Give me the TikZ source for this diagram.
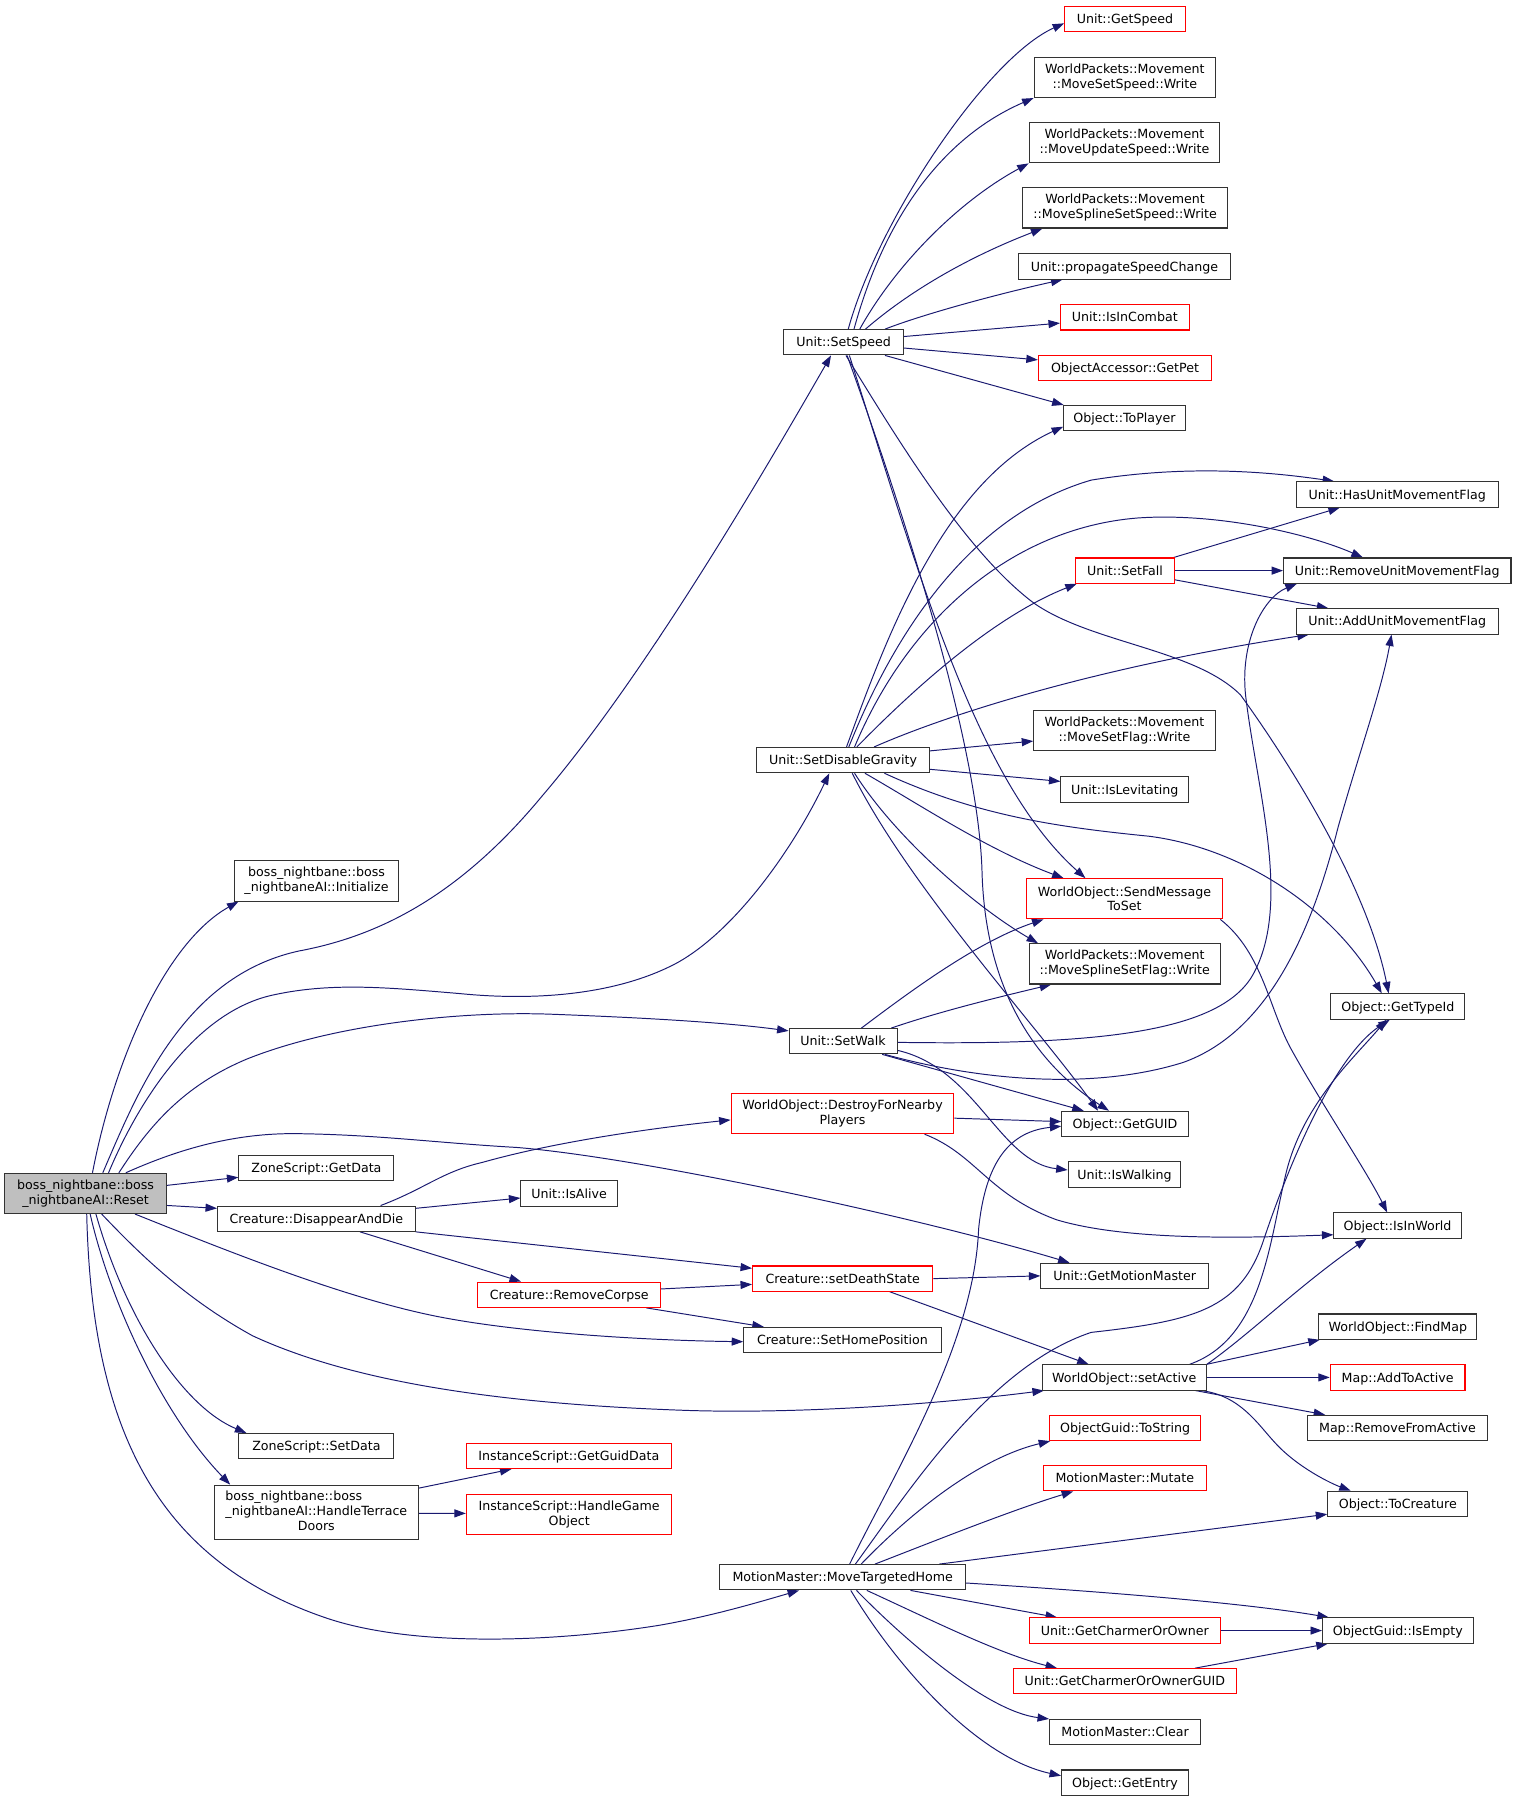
\documentclass[tikz,border=0pt]{standalone}
\usepackage{fontspec}
\setmainfont{DejaVu Sans}
\usetikzlibrary{arrows.meta}
\definecolor{edgeblue}{HTML}{191970}
\definecolor{boxline}{HTML}{333333}
\definecolor{boxred}{HTML}{FF0000}
\definecolor{resetgray}{HTML}{BFBFBF}
\pgfdeclarelayer{bg}
\pgfdeclarelayer{paper}
\pgfsetlayers{paper,bg,main}
\begin{document}
\begin{tikzpicture}[x=1pt,y=-1pt,
  nodebase/.style={draw=boxline, line width=0.9pt, fill=white, inner sep=0pt, font=\fontsize{11}{13}\selectfont},
  box/.style={nodebase, minimum height=22pt, text height=8pt, text depth=0pt},
  box2/.style={nodebase, minimum height=35pt, align=center},
  redbox/.style={box, draw=boxred},
  redbox2/.style={box2, draw=boxred},
  callarrow/.style={draw=edgeblue, line width=0.85pt, -{Triangle[length=10pt,width=7pt]}}]
\begin{pgfonlayer}{paper}
\path[use as bounding box, fill=white] (0,0) rectangle (1320,1568);
\end{pgfonlayer}

% column 1
\node[box2, fill=resetgray, minimum width=141pt] (reset) at (74.5,1039) {boss\_nightbane::boss\\\_nightbaneAI::Reset};
\node[box2, minimum width=143pt] (init) at (275.6,767) {boss\_nightbane::boss\\\_nightbaneAI::Initialize};
\node[box, minimum width=135pt] (gd) at (275.5,1017) {ZoneScript::GetData};
\node[box, minimum width=172pt] (dd) at (275.4,1061) {Creature::DisappearAndDie};
\node[box, minimum width=135pt] (sd) at (275.5,1259) {ZoneScript::SetData};
\node[nodebase, minimum width=178pt, minimum height=47pt] (hand) at (275.4,1316.5) {\begin{tabular}{@{}l@{}}boss\_nightbane::boss\\\_nightbaneAI::HandleTerrace\\\multicolumn{1}{@{}c@{}}{Doors}\end{tabular}};

% column 2
\node[box, minimum width=104pt] (ss) at (734.5,298) {Unit::SetSpeed};
\node[box, minimum width=150pt] (sdg) at (734,661.75) {Unit::SetDisableGravity};
\node[box, minimum width=94pt] (sw) at (734,906.5) {Unit::SetWalk};
\node[redbox2, minimum width=194pt] (dfn) at (733.5,969.5) {WorldObject::DestroyForNearby\\Players};
\node[box, minimum width=84pt] (ia) at (495.5,1039) {Unit::IsAlive};
\node[redbox, minimum width=159pt] (rc) at (495.6,1127.2) {Creature::RemoveCorpse};
\node[redbox, minimum width=157pt] (sds) at (733.7,1113.2) {Creature::setDeathState};
\node[box, minimum width=172pt] (shp) at (733.5,1166.6) {Creature::SetHomePosition};
\node[redbox, minimum width=178pt] (ggd) at (495.3,1267.6) {InstanceScript::GetGuidData};
\node[redbox2, minimum width=179pt] (hgo) at (495.5,1318.6) {InstanceScript::HandleGame\\Object};
\node[box, minimum width=214pt] (mth) at (733.7,1373.2) {MotionMaster::MoveTargetedHome};

% column 3
\node[redbox, minimum width=105pt] (gs) at (979.4,16.3) {Unit::GetSpeed};
\node[box2, minimum width=158pt] (mss) at (979.3,67.4) {WorldPackets::Movement\\::MoveSetSpeed::Write};
\node[box2, minimum width=166pt] (mus) at (979,124.3) {WorldPackets::Movement\\::MoveUpdateSpeed::Write};
\node[box2, minimum width=179pt] (msss) at (979.5,181) {WorldPackets::Movement\\::MoveSplineSetSpeed::Write};
\node[box, minimum width=184pt] (psc) at (979,232) {Unit::propagateSpeedChange};
\node[redbox, minimum width=112pt] (iic) at (979.3,276.3) {Unit::IsInCombat};
\node[redbox, minimum width=151pt] (gp) at (979.5,320.3) {ObjectAccessor::GetPet};
\node[box, minimum width=106pt] (tp) at (979,364) {Object::ToPlayer};
\node[redbox, minimum width=86pt] (sf) at (979.4,496.8) {Unit::SetFall};
\node[box2, minimum width=158pt] (msf) at (979,636.2) {WorldPackets::Movement\\::MoveSetFlag::Write};
\node[box, minimum width=111pt] (il) at (979.2,687.3) {Unit::IsLevitating};
\node[redbox2, minimum width=170pt] (smts) at (979,782.5) {WorldObject::SendMessage\\ToSet};
\node[box2, minimum width=166pt] (mssf) at (979.2,839.2) {WorldPackets::Movement\\::MoveSplineSetFlag::Write};
\node[box, minimum width=110pt] (guid) at (979.5,978.5) {Object::GetGUID};
\node[box, minimum width=98pt] (iw) at (979,1022.6) {Unit::IsWalking};
\node[box, minimum width=146pt] (gmm) at (979.2,1110.8) {Unit::GetMotionMaster};
\node[box, minimum width=143pt] (sa) at (978.8,1199.2) {WorldObject::setActive};
\node[redbox, minimum width=131.5pt] (ts) at (979.5,1243.2) {ObjectGuid::ToString};
\node[redbox, minimum width=142pt] (mut) at (979.3,1287) {MotionMaster::Mutate};
\node[redbox, minimum width=166.5pt] (gco) at (979.3,1419.6) {Unit::GetCharmerOrOwner};
\node[redbox, minimum width=194.6pt] (gcog) at (979.3,1463.8) {Unit::GetCharmerOrOwnerGUID};
\node[box, minimum width=131.5pt] (clr) at (979.5,1508) {MotionMaster::Clear};
\node[box, minimum width=110.6pt] (ge) at (979.5,1552) {Object::GetEntry};

% column 4
\node[box, minimum width=175.4pt] (hum) at (1216.5,430.5) {Unit::HasUnitMovementFlag};
\node[box, minimum width=198pt] (rum) at (1216.5,496.8) {Unit::RemoveUnitMovementFlag};
\node[box, minimum width=175.4pt] (aum) at (1216.5,541) {Unit::AddUnitMovementFlag};
\node[box, minimum width=116.5pt] (gti) at (1217,876.3) {Object::GetTypeId};
\node[box, minimum width=110.7pt] (iiw) at (1216.7,1067) {Object::IsInWorld};
\node[box, minimum width=137.4pt] (fm) at (1217,1155) {WorldObject::FindMap};
\node[redbox, minimum width=117.3pt] (ata) at (1216.8,1199.2) {Map::AddToActive};
\node[box, minimum width=156pt] (rfa) at (1216.7,1243.2) {Map::RemoveFromActive};
\node[box, minimum width=122pt] (tc) at (1217,1309.3) {Object::ToCreature};
\node[box, minimum width=131.2pt] (ie) at (1217,1419.6) {ObjectGuid::IsEmpty};

\begin{pgfonlayer}{bg}
% Reset
\draw[callarrow] ([xshift=6]reset.north) .. controls (100,920) and (145,820) .. ([xshift=-68]init.south);
\draw[callarrow] ([xshift=15]reset.north) .. controls (120,950) and (160,850) .. (260,828) .. controls (330,815) and (400,780) .. (472,693) .. controls (560,590) and (660,420) .. ([xshift=-11]ss.south);
\draw[callarrow] ([xshift=20]reset.north) .. controls (120,960) and (170,880) .. (239,866) .. controls (290,855) and (340,860) .. (400,865) .. controls (470,872) and (540,865) .. (590,838) .. controls (640,810) and (690,740) .. ([xshift=-12]sdg.south);
\draw[callarrow] ([xshift=29]reset.north) .. controls (130,980) and (160,945) .. (215,922) .. controls (290,892) and (400,880) .. (480,883) .. controls (560,886) and (630,890) .. ([yshift=9]sw.west);
\draw[callarrow] ([yshift=7]reset.east) -- ([yshift=-8]gd.west);
\draw[callarrow] ([yshift=-10.5]reset.east) -- ([yshift=9]dd.west);
\draw[callarrow] ([xshift=35]reset.north) .. controls (150,1003) and (200,986) .. (260,987) .. controls (330,988) and (380,995) .. (450,999) .. controls (560,1008) and (800,1060) .. ([xshift=-48]gmm.north);
\draw[callarrow] ([xshift=43]reset.south) .. controls (200,1090) and (300,1130) .. (380,1146) .. controls (450,1160) and (560,1167) .. ([yshift=-1.5]shp.west);
\draw[callarrow] ([xshift=14]reset.south) .. controls (120,1090) and (160,1130) .. (220,1163) .. controls (300,1200) and (420,1222) .. (600,1228) .. controls (700,1231) and (820,1222) .. ([xshift=2]sa.south west);
\draw[callarrow] ([xshift=9]reset.south) .. controls (110,1150) and (160,1225) .. ([xshift=-61]sd.north);
\draw[callarrow] ([xshift=4]reset.south) .. controls (95,1130) and (140,1230) .. ([xshift=-75]hand.north);
\draw[callarrow] ([xshift=1]reset.south) .. controls (80,1250) and (140,1360) .. (285,1409) .. controls (360,1434) and (480,1430) .. (574,1415) .. controls (620,1407) and (660,1395) .. ([xshift=-38]mth.south);
% DisappearAndDie, RemoveCorpse, setDeathState, HandleTerraceDoors
\draw[callarrow] ([xshift=56]dd.north) .. controls (370,1035) and (385,1020) .. (420,1012) .. controls (480,995) and (560,983) .. ([yshift=-5.5]dfn.west);
\draw[callarrow] ([yshift=9]dd.east) -- ([yshift=-4]ia.west);
\draw[callarrow] (dd.south east) -- ([yshift=9]sds.west);
\draw[callarrow] ([xshift=38]dd.south) -- ([xshift=-42]rc.north);
\draw[callarrow] ([yshift=5]rc.east) -- ([yshift=-5]sds.west);
\draw[callarrow] ([xshift=-13]rc.south east) -- ([xshift=-68.5]shp.north);
\draw[callarrow] (sds.east) -- (gmm.west);
\draw[callarrow] ([xshift=41]sds.south) -- ([xshift=-31]sa.north);
\draw[callarrow] ([yshift=-3]hand.north east) -- ([xshift=-50]ggd.south);
\draw[callarrow] ([yshift=-1]hand.east) -- ([yshift=1]hgo.west);
% SetSpeed
\draw[callarrow] ([xshift=4]ss.north) .. controls (765,190) and (860,50) .. ([yshift=-4]gs.west);
\draw[callarrow] ([xshift=9]ss.north) .. controls (770,190) and (820,120) .. (mss.south west);
\draw[callarrow] ([xshift=14]ss.north) .. controls (780,230) and (835,175) .. (mus.south west);
\draw[callarrow] ([xshift=19]ss.north) .. controls (790,255) and (840,225) .. ([xshift=18]msss.south west);
\draw[callarrow] ([xshift=36]ss.north) .. controls (800,275) and (860,258) .. ([xshift=-54]psc.south);
\draw[callarrow] ([yshift=5]ss.east) -- ([yshift=-5]iic.west);
\draw[callarrow] ([yshift=-5]ss.east) -- ([yshift=7]gp.west);
\draw[callarrow] ([xshift=36]ss.south) -- ([xshift=-53]tp.north);
\draw[callarrow] ([xshift=2]ss.south) .. controls (780,380) and (840,480) .. (900,525) .. controls (950,560) and (1040,565) .. (1080,605) .. controls (1120,660) and (1190,770) .. ([xshift=-8]gti.north);
\draw[callarrow] ([xshift=5]ss.south) .. controls (800,500) and (850,680) .. ([xshift=-34]smts.north);
\draw[callarrow] ([xshift=3]ss.south) .. controls (777,419) and (852,640) .. (855,760) .. controls (858,860) and (900,925) .. ([xshift=-14]guid.north);
% SetDisableGravity
\draw[callarrow] ([xshift=3]sdg.north) .. controls (770,560) and (820,420) .. ([yshift=-7.5]tp.west);
\draw[callarrow] ([xshift=5]sdg.north) .. controls (775,560) and (840,450) .. (950,418) .. controls (1030,405) and (1100,410) .. ([xshift=-55]hum.north);
\draw[callarrow] ([xshift=10]sdg.north) .. controls (790,540) and (880,460) .. (990,451) .. controls (1060,446) and (1140,465) .. ([xshift=-30]rum.north);
\draw[callarrow] ([xshift=12]sdg.north) .. controls (805,590) and (870,535) .. ([xshift=1.5]sf.south west);
\draw[callarrow] ([xshift=27]sdg.north) .. controls (830,620) and (960,580) .. ([xshift=-77]aum.south);
\draw[callarrow] ([yshift=8]sdg.east) -- ([yshift=-9]msf.west);
\draw[callarrow] ([yshift=-8]sdg.east) -- ([yshift=7]il.west);
\draw[callarrow] ([xshift=36]sdg.south) .. controls (850,710) and (920,720) .. (1000,728) .. controls (1080,738) and (1160,790) .. ([xshift=-14]gti.north);
\draw[callarrow] ([xshift=19]sdg.south) .. controls (800,700) and (860,740) .. ([xshift=-53]smts.north);
\draw[callarrow] ([xshift=10]sdg.south) .. controls (780,730) and (850,790) .. ([xshift=8]mssf.north west);
\draw[callarrow] ([xshift=8]sdg.south) .. controls (790,770) and (900,890) .. ([xshift=-23.5]guid.north);
% SetFall
\draw[callarrow] ([xshift=-1]sf.north east) -- ([xshift=-50]hum.south);
\draw[callarrow] (sf.east) -- (rum.west);
\draw[callarrow] ([yshift=-8]sf.east) -- ([xshift=-60]aum.north);
% SetWalk
\draw[callarrow] ([xshift=16]sw.north) .. controls (790,865) and (850,820) .. ([xshift=-70.5]smts.south);
\draw[callarrow] ([xshift=42]sw.north) .. controls (820,880) and (870,868) .. ([xshift=-64]mssf.south);
\draw[callarrow] ([yshift=-1]sw.east) .. controls (950,910) and (1060,900) .. (1090,850) .. controls (1125,790) and (1095,690) .. (1085,610) .. controls (1078,560) and (1100,520) .. ([xshift=12]rum.south west);
\draw[callarrow] ([xshift=-11]sw.south east) .. controls (850,940) and (950,950) .. (1030,925) .. controls (1100,900) and (1140,820) .. (1165,720) .. controls (1185,650) and (1203,600) .. ([xshift=-5]aum.south);
\draw[callarrow] ([xshift=34]sw.south) -- ([xshift=-36]guid.north);
\draw[callarrow] ([yshift=-8]sw.east) .. controls (850,930) and (870,1012) .. ([yshift=4]iw.west);
% DestroyForNearbyPlayers, SendMessageToSet
\draw[callarrow] ([yshift=-4]dfn.east) -- ([yshift=2]guid.west);
\draw[callarrow] ([xshift=-26]dfn.south east) .. controls (850,1005) and (860,1040) .. (920,1062) .. controls (980,1080) and (1080,1078) .. ([yshift=-8]iiw.west);
\draw[callarrow] ([xshift=-2]smts.south east) .. controls (1100,830) and (1105,880) .. (1125,915) .. controls (1150,960) and (1190,1020) .. ([xshift=-9]iiw.north);
% setActive
\draw[callarrow] ([xshift=57]sa.north) .. controls (1100,1165) and (1105,1080) .. (1120,1020) .. controls (1135,960) and (1180,920) .. ([xshift=-10]gti.south);
\draw[callarrow] ([xshift=72]sa.north) .. controls (1090,1160) and (1130,1120) .. ([xshift=-27]iiw.south);
\draw[callarrow] (sa.north east) -- ([xshift=-68]fm.south);
\draw[callarrow] (sa) -- (ata);
\draw[callarrow] ([xshift=-10]sa.south east) -- ([xshift=-63]rfa.north);
\draw[callarrow] ([xshift=-5]sa.south east) .. controls (1080,1215) and (1095,1240) .. (1110,1256) .. controls (1130,1278) and (1160,1292) .. ([xshift=-41]tc.north);
% MoveTargetedHome
\draw[callarrow] ([xshift=6]mth.north) .. controls (780,1280) and (848,1170) .. (852,1070) .. controls (858,1010) and (880,985) .. ([yshift=-2]guid.west);
\draw[callarrow] ([xshift=11]mth.north) .. controls (790,1300) and (860,1190) .. (950,1160) .. controls (1040,1150) and (1080,1140) .. (1100,1080) .. controls (1120,1020) and (1160,920) .. ([xshift=-7]gti.south);
\draw[callarrow] ([xshift=16]mth.north) .. controls (790,1320) and (850,1270) .. ([xshift=1]ts.south west);
\draw[callarrow] ([xshift=28]mth.north) .. controls (805,1345) and (880,1315) .. ([xshift=-45]mut.south);
\draw[callarrow] ([xshift=84]mth.north) -- ([yshift=-9]tc.west);
\draw[callarrow] ([yshift=-5]mth.east) .. controls (950,1385) and (1080,1395) .. ([xshift=6]ie.north west);
\draw[callarrow] ([xshift=59]mth.south) -- ([xshift=-59]gco.north);
\draw[callarrow] ([xshift=21]mth.south) .. controls (810,1410) and (870,1440) .. ([xshift=-59]gcog.north);
\draw[callarrow] ([xshift=12]mth.south) .. controls (790,1430) and (860,1490) .. (clr.north west);
\draw[callarrow] ([xshift=7]mth.south) .. controls (780,1450) and (850,1530) .. ([yshift=6]ge.west);
\draw[callarrow] (gco) -- (ie);
\draw[callarrow] ([xshift=61]gcog.north) -- ([xshift=5]ie.south west);
\end{pgfonlayer}
\end{tikzpicture}
\end{document}
